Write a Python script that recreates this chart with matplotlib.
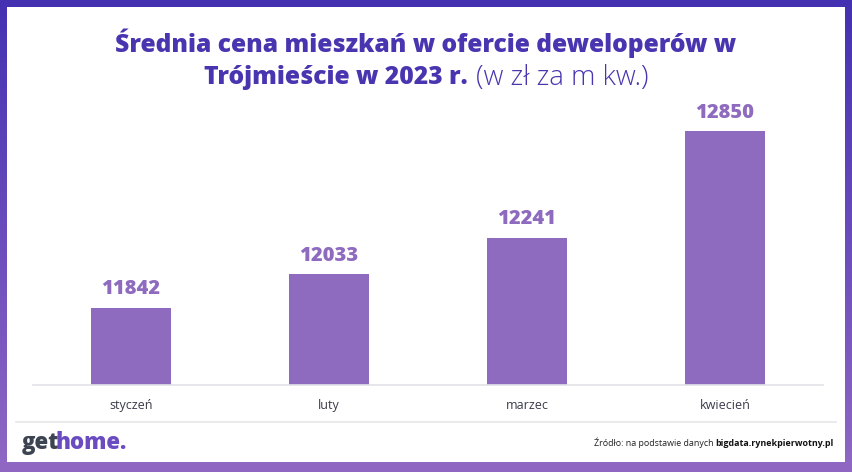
import numpy as np
import matplotlib.pyplot as plt
from matplotlib.patches import Rectangle
from matplotlib.colors import LinearSegmentedColormap

months = ["styczeń", "luty", "marzec", "kwiecień"]
prices = [11842, 12033, 12241, 12850]

W, H = 852, 472
fig = plt.figure(figsize=(W / 100, H / 100), dpi=100)

# purple gradient frame
bg = fig.add_axes([0, 0, 1, 1])
grad = np.linspace(0, 1, 256).reshape(-1, 1)
cmap = LinearSegmentedColormap.from_list("frame", ["#4431b1", "#6a4cbc", "#9068c4"])
bg.imshow(grad, aspect="auto", cmap=cmap, extent=[0, W, 0, H], origin="upper")
bg.add_patch(Rectangle((7, 10), W - 14, H - 17, facecolor="white", edgecolor="none"))
bg.set_xlim(0, W)
bg.set_ylim(0, H)
bg.axis("off")

# separator line above footer
bg.plot([16, 836], [H - 422, H - 422], color="#e6e6ea", lw=1.2)

# bar chart
left, right, bottom, top = 33, 823, 385, 105
ax = fig.add_axes([left / W, 1 - bottom / H, (right - left) / W, (bottom - top) / H])
ax.patch.set_alpha(0)
x = np.arange(len(months))
bar_color = "#8e6bbf"
ax.bar(x, prices, width=0.4, color=bar_color)
ax.set_xlim(-0.495, 3.495)
ax.set_ylim(11400, 13000)
for xi, v in zip(x, prices):
    ax.annotate(str(v), (xi, v), xytext=(0, 6), textcoords="offset points",
                ha="center", va="bottom", fontsize=14.5, fontweight=800,
                color=bar_color, family="Open Sans")
for s in ["top", "right", "left"]:
    ax.spines[s].set_visible(False)
ax.spines["bottom"].set_color("#e3e3e8")
ax.spines["bottom"].set_linewidth(1.2)
ax.set_yticks([])
ax.set_xticks(x)
ax.set_xticklabels(months, fontsize=9, color="#3a3a4a", family="Open Sans")
ax.tick_params(axis="x", length=0, pad=10)

# title
title_color = "#4a35b0"
tsize = 17.7
fig.text(0.5, 1 - 43 / H, "Średnia cena mieszkań w ofercie deweloperów w",
         ha="center", va="center", fontsize=tsize, fontweight=800,
         color=title_color, family="Open Sans")
fig.canvas.draw()
r = fig.canvas.get_renderer()
t1 = fig.text(0, 1 - 78 / H, "Trójmieście w 2023 r.", ha="left", va="center",
              fontsize=tsize, fontweight=800, color=title_color, family="Open Sans")
t2 = fig.text(0, 1 - 78 / H, "(w zł za m kw.)", ha="left", va="center",
              fontsize=19.8, fontweight="light", color=title_color, family="Open Sans")
w1 = t1.get_window_extent(r).width
w2 = t2.get_window_extent(r).width
gap = 8
x0 = (W - w1 - w2 - gap) / 2
t1.set_x(x0 / W)
t2.set_x((x0 + w1 + gap) / W)

# footer
g1 = fig.text(22 / W, 1 - 443 / H, "get", ha="left", va="center", fontsize=16,
              fontweight=800, color="#3d4451", family="Open Sans")
bg.annotate("home.", xy=(1, 0.5), xycoords=g1, xytext=(-3.0, 0),
            textcoords="offset points", ha="left", va="center", fontsize=16,
            fontweight=800, color="#6a4cc0", family="Open Sans")

s2 = fig.text(833 / W, 1 - 443 / H, "bigdata.rynekpierwotny.pl", ha="right",
              va="center", fontsize=6.4, fontweight="bold", color="#111111",
              family="Open Sans")
bg.annotate("Źródło: na podstawie danych", xy=(0, 0.5), xycoords=s2,
            xytext=(-0.8, 0), textcoords="offset points", ha="right",
            va="center", fontsize=6.4, color="#222222", family="Open Sans")

fig.savefig("out.png", dpi=100)
